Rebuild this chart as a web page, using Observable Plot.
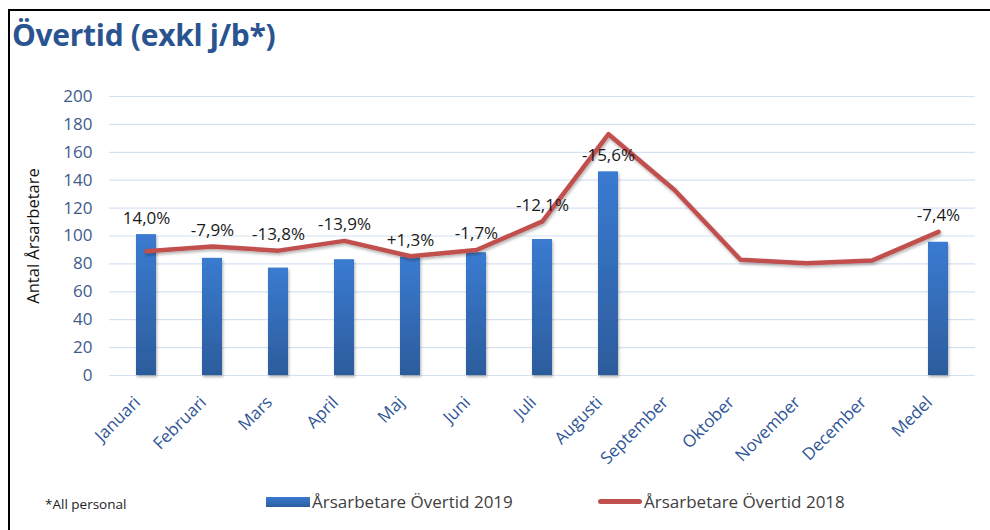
<!DOCTYPE html>
<html>
<head>
<meta charset="utf-8">
<script src="https://cdn.jsdelivr.net/npm/d3@7"></script>
<script src="https://cdn.jsdelivr.net/npm/@observablehq/plot@0.6"></script>
<style>
  html, body { margin: 0; padding: 0; background: #fff; }
  body { width: 990px; height: 530px; position: relative; overflow: hidden; font-family: "Open Sans", sans-serif; }
  #frame { position: absolute; left: 8px; top: 9px; width: 1100px; height: 600px; border-top: 2px solid #000; border-left: 2px solid #000; }
  #title { position: absolute; left: 12px; top: 14px; font: bold 30px "Open Sans", sans-serif; color: #2A5490; letter-spacing: -0.3px; }
  #chart { position: absolute; left: 0; top: 80px; }
  #foot { position: absolute; left: 45px; top: 495px; font: 13.5px "Open Sans", sans-serif; color: #222; }
  .leg { position: absolute; top: 490px; font: 17px "Open Sans", sans-serif; color: #404040; display: flex; align-items: center; white-space: nowrap; }
  .sw-bar { width: 44px; height: 10px; background: linear-gradient(#3A7AD0, #2D5E9E); margin-right: 2px; }
  .sw-line { width: 44px; height: 5px; border-radius: 3px; background: #C0504D; margin-right: 2px; }
</style>
</head>
<body>
<div id="frame"></div>
<div id="title">Övertid (exkl j/b*)</div>
<div id="chart"></div>
<div id="foot">*All personal</div>
<div class="leg" style="left:266px"><div class="sw-bar"></div>Årsarbetare Övertid 2019</div>
<div class="leg" style="left:598px"><div class="sw-line"></div>Årsarbetare Övertid 2018</div>
<script>
const categories = ["Januari","Februari","Mars","April","Maj","Juni","Juli","Augusti","September","Oktober","November","December","Medel"];
const values2019 = [101, 84, 77, 83, 85, 88, 97.5, 146, null, null, null, null, 95.5];
const values2018 = [89, 92.5, 89.5, 96.5, 85.5, 90, 110.5, 173, 133, 83, 80.5, 82.5, 103];
const changeLabels = ["14,0%","-7,9%","-13,8%","-13,9%","+1,3%","-1,7%","-12,1%","-15,6%","","","","","-7,4%"];
const yTicks = [0, 20, 40, 60, 80, 100, 120, 140, 160, 180, 200];

const rows = categories.map((c, i) => ({
  cat: c,
  v19: values2019[i],
  v18: values2018[i],
  label: changeLabels[i],
  anchor: values2019[i] == null ? values2018[i]
        : (values2018[i] - values2019[i] > 20 ? values2019[i] : Math.max(values2019[i], values2018[i]))
}));
const bars = rows.filter(d => d.v19 != null);
const labels = rows.filter(d => d.label !== "");

const plot = Plot.plot({
  width: 990,
  height: 400,
  marginLeft: 109,
  marginRight: 15,
  marginTop: 16,
  marginBottom: 105,
  style: { fontFamily: "Open Sans, sans-serif", fontSize: "17px", background: "transparent" },
  x: { type: "band", domain: categories, paddingInner: 0.7, paddingOuter: 0.35, label: null },
  y: { domain: [0, 200], label: null },
  marks: [
    Plot.ruleY(yTicks, { stroke: "#D6E2F2", strokeWidth: 1.2 }),
    Plot.barY(bars, { x: "cat", y: "v19", fill: "url(#barGrad)" }),
    Plot.lineY(rows, { x: "cat", y: "v18", stroke: "#C0504D", strokeWidth: 4.5, strokeLinejoin: "round", strokeLinecap: "round" }),
    Plot.text(labels, { x: "cat", y: "anchor", text: "label", dy: -16, fontSize: 17, fill: "#1a1a1a" }),
    Plot.axisY(yTicks, { tickSize: 0, tickPadding: 17, fontSize: 17, color: "#3D5B8C", label: null }),
    Plot.axisX({ tickSize: 0, tickPadding: 24, dx: -9, tickRotate: -45, fontSize: 17, color: "#2F5597", label: null }),
    Plot.text(["Antal Årsarbetare"], { frameAnchor: "left", textAnchor: "middle", dx: -76, rotate: -90, fontSize: 16.5, fill: "#111" })
  ]
});

const svgns = "http://www.w3.org/2000/svg";
const defs = document.createElementNS(svgns, "defs");
defs.innerHTML = `<linearGradient id="barGrad" x1="0" y1="0" x2="0" y2="1">
  <stop offset="0" stop-color="#3A7BD1"/><stop offset="1" stop-color="#2C5C9C"/></linearGradient>
  <filter id="sh" x="-20%" y="-20%" width="140%" height="140%"><feDropShadow dx="1" dy="2" stdDeviation="1.5" flood-color="#000" flood-opacity="0.3"/></filter>`;
plot.insertBefore(defs, plot.firstChild);
d3.select(plot).selectAll("g[aria-label='bar'], g[aria-label='line']").attr("filter", "url(#sh)");
document.getElementById("chart").appendChild(plot);
</script>
</body>
</html>
